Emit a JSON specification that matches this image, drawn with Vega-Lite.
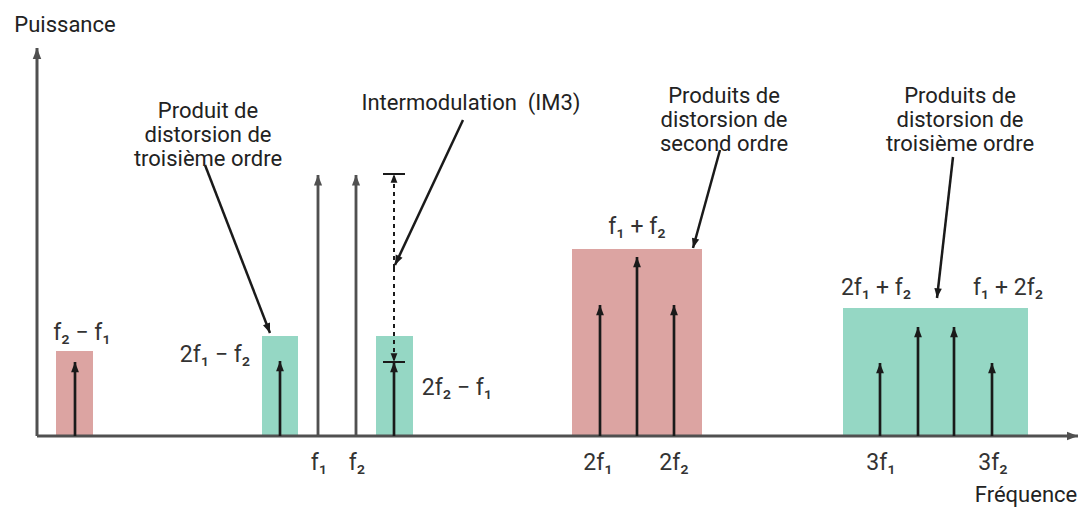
{
  "$schema": "https://vega.github.io/schema/vega-lite/v6.json",
  "width": 1088,
  "height": 515,
  "autosize": {"type": "fit", "contains": "padding"},
  "padding": 0,
  "background": "#ffffff",
  "config": {"view": {"stroke": null}},
  "datasets": {
    "boites": [
      {"x": 19, "x2": 56, "y": 0, "y2": 85, "ordre": "second"},
      {"x": 225, "x2": 261, "y": 0, "y2": 100, "ordre": "troisième"},
      {"x": 339, "x2": 376, "y": 0, "y2": 100, "ordre": "troisième"},
      {"x": 535, "x2": 665, "y": 0, "y2": 187, "ordre": "second"},
      {"x": 806, "x2": 991, "y": 0, "y2": 128, "ordre": "troisième"}
    ],
    "traits": [
      {"x": 0, "y": 0, "x2": 1041, "y2": 0, "kind": "axe"},
      {"x": 0, "y": 0, "x2": 0, "y2": 388, "kind": "axe"},
      {"x": 281, "y": 0, "x2": 281, "y2": 261, "kind": "fondamentale"},
      {"x": 319, "y": 0, "x2": 319, "y2": 261, "kind": "fondamentale"},
      {"x": 38, "y": 0, "x2": 38, "y2": 74, "kind": "produit"},
      {"x": 243, "y": 0, "x2": 243, "y2": 75, "kind": "produit"},
      {"x": 357, "y": 0, "x2": 357, "y2": 74, "kind": "produit"},
      {"x": 563, "y": 0, "x2": 563, "y2": 131, "kind": "produit"},
      {"x": 600, "y": 0, "x2": 600, "y2": 179, "kind": "produit"},
      {"x": 637, "y": 0, "x2": 637, "y2": 131, "kind": "produit"},
      {"x": 843, "y": 0, "x2": 843, "y2": 73, "kind": "produit"},
      {"x": 881, "y": 0, "x2": 881, "y2": 109, "kind": "produit"},
      {"x": 917, "y": 0, "x2": 917, "y2": 109, "kind": "produit"},
      {"x": 955, "y": 0, "x2": 955, "y2": 73, "kind": "produit"},
      {"x": 168, "y": 271, "x2": 233, "y2": 103, "kind": "pointeur"},
      {"x": 426, "y": 316, "x2": 358, "y2": 171, "kind": "pointeur"},
      {"x": 683, "y": 286, "x2": 656, "y2": 188, "kind": "pointeur"},
      {"x": 916, "y": 279, "x2": 900, "y2": 138, "kind": "pointeur"}
    ],
    "im3": [
      {"x": 357, "y": 168, "x2": 357, "y2": 262},
      {"x": 357, "y": 168, "x2": 357, "y2": 74}
    ],
    "barres": [
      {"x": 346, "x2": 368, "y": 262, "y2": 262},
      {"x": 346, "x2": 368, "y": 74, "y2": 74}
    ],
    "etiquettes": [
      {"texte": "f₂ − f₁", "x": 45, "y": 103},
      {"texte": "2f₁ − f₂", "x": 178, "y": 81},
      {"texte": "f₁", "x": 282, "y": -27},
      {"texte": "f₂", "x": 320, "y": -27},
      {"texte": "2f₂ − f₁", "x": 420, "y": 48},
      {"texte": "f₁ + f₂", "x": 600, "y": 209},
      {"texte": "2f₁", "x": 561, "y": -27},
      {"texte": "2f₂", "x": 637, "y": -27},
      {"texte": "2f₁ + f₂", "x": 839, "y": 148},
      {"texte": "f₁ + 2f₂", "x": 971, "y": 148},
      {"texte": "3f₁", "x": 844, "y": -27},
      {"texte": "3f₂", "x": 956, "y": -27}
    ],
    "notes": [
      {"texte": "Puissance", "x": 28, "y": 411},
      {"texte": "Fréquence", "x": 989, "y": -59},
      {"texte": "Intermodulation\u00a0\u00a0(IM3)", "x": 434, "y": 333},
      {"texte": "Produit de\ndistorsion de\ntroisième ordre", "x": 171, "y": 325},
      {"texte": "Produits de\ndistorsion de\nsecond ordre", "x": 687, "y": 340},
      {"texte": "Produits de\ndistorsion de\ntroisième ordre", "x": 923, "y": 340}
    ]
  },
  "layer": [
    {
      "data": {"name": "boites"},
      "mark": {"type": "rect"},
      "encoding": {
        "x": {"field": "x", "type": "quantitative", "scale": {"domain": [-37, 1051], "nice": false, "zero": false}, "axis": null},
        "x2": {"field": "x2"},
        "y": {"field": "y", "type": "quantitative", "scale": {"domain": [-79, 436], "nice": false, "zero": false}, "axis": null},
        "y2": {"field": "y2"},
        "color": {"field": "ordre", "type": "nominal", "scale": {"domain": ["second", "troisième"], "range": ["#dca4a2", "#95d7c4"]}, "legend": null}
      }
    },
    {
      "data": {"name": "traits"},
      "mark": {"type": "rule"},
      "encoding": {
        "x": {"field": "x", "type": "quantitative", "scale": {"domain": [-37, 1051], "nice": false, "zero": false}, "axis": null},
        "x2": {"field": "x2"},
        "y": {"field": "y", "type": "quantitative", "scale": {"domain": [-79, 436], "nice": false, "zero": false}, "axis": null},
        "y2": {"field": "y2"},
        "stroke": {"field": "kind", "type": "nominal", "scale": {"domain": ["axe", "fondamentale", "produit", "pointeur"], "range": ["#505050", "#505050", "#1a1a1a", "#1a1a1a"]}, "legend": null},
        "strokeWidth": {"field": "kind", "type": "nominal", "scale": {"domain": ["axe", "fondamentale", "produit", "pointeur"], "range": [3, 2.5, 1.6, 2]}, "legend": null}
      }
    },
    {
      "data": {"name": "traits"},
      "transform": [{"calculate": "atan2(datum.x2 - datum.x, datum.y2 - datum.y) * 180 / PI", "as": "angle"}],
      "mark": {"type": "point", "shape": "M0,0L-1,2.6L1,2.6Z", "filled": true, "opacity": 1},
      "encoding": {
        "x": {"field": "x2", "type": "quantitative", "scale": {"domain": [-37, 1051], "nice": false, "zero": false}, "axis": null},
        "y": {"field": "y2", "type": "quantitative", "scale": {"domain": [-79, 436], "nice": false, "zero": false}, "axis": null},
        "angle": {"field": "angle", "type": "quantitative", "scale": null},
        "fill": {"field": "kind", "type": "nominal", "scale": {"domain": ["axe", "fondamentale", "produit", "pointeur"], "range": ["#505050", "#505050", "#1a1a1a", "#1a1a1a"]}, "legend": null},
        "size": {"field": "kind", "type": "nominal", "scale": {"domain": ["axe", "fondamentale", "produit", "pointeur"], "range": [72, 56, 46, 60]}, "legend": null}
      }
    },
    {
      "data": {"name": "im3"},
      "mark": {"type": "rule", "color": "#1a1a1a", "strokeWidth": 2, "strokeDash": [4, 4]},
      "encoding": {
        "x": {"field": "x", "type": "quantitative", "scale": {"domain": [-37, 1051], "nice": false, "zero": false}, "axis": null},
        "x2": {"field": "x2"},
        "y": {"field": "y", "type": "quantitative", "scale": {"domain": [-79, 436], "nice": false, "zero": false}, "axis": null},
        "y2": {"field": "y2"}
      }
    },
    {
      "data": {"name": "im3"},
      "transform": [{"calculate": "atan2(datum.x2 - datum.x, datum.y2 - datum.y) * 180 / PI", "as": "angle"}],
      "mark": {"type": "point", "shape": "M0,0L-1,2.6L1,2.6Z", "filled": true, "opacity": 1, "color": "#1a1a1a", "size": 46},
      "encoding": {
        "x": {"field": "x2", "type": "quantitative", "scale": {"domain": [-37, 1051], "nice": false, "zero": false}, "axis": null},
        "y": {"field": "y2", "type": "quantitative", "scale": {"domain": [-79, 436], "nice": false, "zero": false}, "axis": null},
        "angle": {"field": "angle", "type": "quantitative", "scale": null}
      }
    },
    {
      "data": {"name": "barres"},
      "mark": {"type": "rule", "color": "#1a1a1a", "strokeWidth": 2},
      "encoding": {
        "x": {"field": "x", "type": "quantitative", "scale": {"domain": [-37, 1051], "nice": false, "zero": false}, "axis": null},
        "x2": {"field": "x2"},
        "y": {"field": "y", "type": "quantitative", "scale": {"domain": [-79, 436], "nice": false, "zero": false}, "axis": null},
        "y2": {"field": "y2"}
      }
    },
    {
      "data": {"name": "etiquettes"},
      "mark": {"type": "text", "font": "Roboto", "fontSize": 23, "color": "#333333", "align": "center", "baseline": "middle"},
      "encoding": {
        "x": {"field": "x", "type": "quantitative", "scale": {"domain": [-37, 1051], "nice": false, "zero": false}, "axis": null},
        "y": {"field": "y", "type": "quantitative", "scale": {"domain": [-79, 436], "nice": false, "zero": false}, "axis": null},
        "text": {"field": "texte", "type": "nominal"}
      }
    },
    {
      "data": {"name": "notes"},
      "mark": {"type": "text", "font": "Roboto", "fontSize": 22, "color": "#222222", "align": "center", "baseline": "middle", "lineBreak": "\n", "lineHeight": 24},
      "encoding": {
        "x": {"field": "x", "type": "quantitative", "scale": {"domain": [-37, 1051], "nice": false, "zero": false}, "axis": null},
        "y": {"field": "y", "type": "quantitative", "scale": {"domain": [-79, 436], "nice": false, "zero": false}, "axis": null},
        "text": {"field": "texte", "type": "nominal"}
      }
    }
  ]
}
